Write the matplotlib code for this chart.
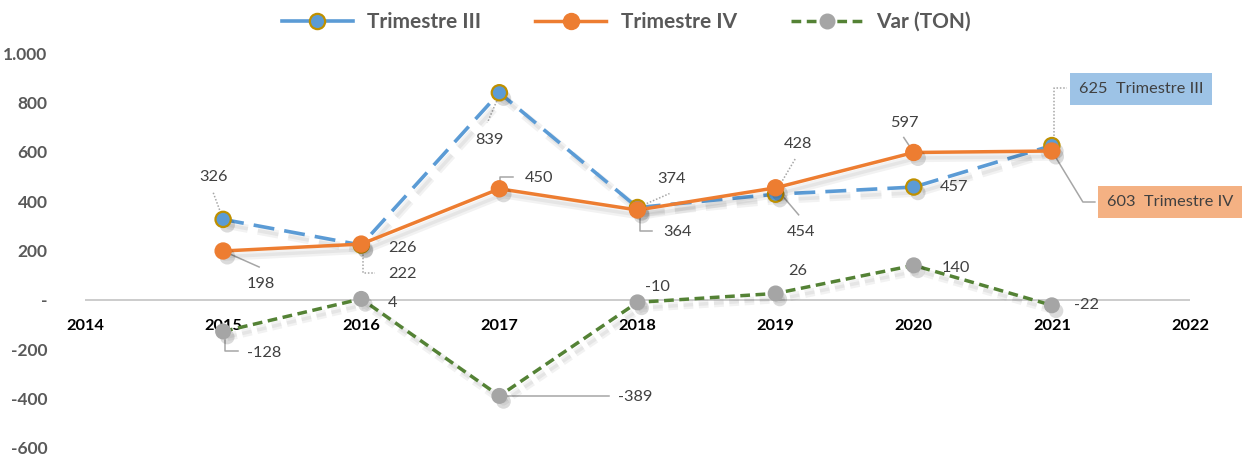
import matplotlib
matplotlib.use("Agg")
import matplotlib.pyplot as plt
import matplotlib.patheffects as pe
from matplotlib.lines import Line2D
import numpy as np

plt.rcParams['font.family'] = ['Lato', 'DejaVu Sans']

years = [2015, 2016, 2017, 2018, 2019, 2020, 2021]
trim3 = [326, 222, 839, 374, 428, 457, 625]
trim4 = [198, 226, 450, 364, 454, 597, 603]
var_ton = [-128, 4, -389, -10, 26, 140, -22]
x_ticks = [2014, 2015, 2016, 2017, 2018, 2019, 2020, 2021, 2022]
y_ticks = [-600, -400, -200, 0, 200, 400, 600, 800, 1000]
y_tick_labels = ['-600', '-400', '-200', '-', '200', '400', '600', '800', '1.000']

C_BLUE = '#5B9BD5'
C_GOLD = '#BF9000'
C_ORANGE = '#ED7D31'
C_GREEN = '#548235'
C_GRAY = '#A5A5A5'
C_LEAD = '#A6A6A6'
C_LABEL = '#404040'

W, H = 1253, 459
fig = plt.figure(figsize=(W / 100, H / 100), dpi=100)
ax = fig.add_axes([85 / W, (H - 448) / H, (1190 - 85) / W, (448 - 53) / H])
ax.set_xlim(2014, 2022)
ax.set_ylim(-600, 1000)
for s in ax.spines.values():
    s.set_visible(False)
ax.set_xticks([])
ax.set_yticks(y_ticks)
ax.set_yticklabels(y_tick_labels, fontsize=12.5, fontweight='bold', color='#595959')
ax.tick_params(axis='y', length=0, pad=27)
ax.axhline(0, color='#C8C8C8', lw=1.3, zorder=1)

for xv in x_ticks:
    ax.annotate(str(xv), (xv, 0), xytext=(0, -26), textcoords='offset pixels',
                ha='center', va='center', fontsize=11.8, fontweight='bold', color='black')

line_shadow = [pe.SimpleLineShadow(offset=(3, -4), shadow_color='black', alpha=0.05, linewidth=6),
               pe.SimpleLineShadow(offset=(3, -4), shadow_color='black', alpha=0.05),
               pe.Normal()]
mark_shadow = [pe.SimplePatchShadow(offset=(3, -4), shadow_rgbFace='black', alpha=0.14),
               pe.Normal()]

series = [
    (trim3, dict(color=C_BLUE, lw=2.6, ls=(0, (5.8, 2.8))),
     dict(ms=11, mfc=C_BLUE, mec=C_GOLD, mew=1.6), 3),
    (trim4, dict(color=C_ORANGE, lw=2.5, ls='-'),
     dict(ms=11.5, mfc=C_ORANGE, mec=C_ORANGE, mew=1), 4),
    (var_ton, dict(color=C_GREEN, lw=2.5, ls=(0, (2.8, 1.6))),
     dict(ms=10.5, mfc=C_GRAY, mec=C_GRAY, mew=1), 5),
]
for vals, lkw, mkw, z in series:
    ax.plot(years, vals, zorder=z, path_effects=line_shadow, **lkw)
    ax.plot(years, vals, ls='none', marker='o', zorder=z + 0.1, path_effects=mark_shadow, **mkw)


def off(xd, yd, dx, dy):
    px, py = ax.transData.transform((xd, yd))
    return ax.transData.inverted().transform((px + dx, py + dy))


def label(xd, yd, text, dx, dy, leader=None, ls='-', box=None):
    if leader:
        pts = np.array([off(xd, yd, a, b) for a, b in leader])
        ax.plot(pts[:, 0], pts[:, 1], color=C_LEAD, lw=1.1,
                ls=(0, (1, 1.2)) if ls == ':' else '-', zorder=2.5)
    kw = {}
    if box:
        kw['bbox'] = dict(boxstyle='square,pad=0.55', fc=box, ec='none')
    ax.annotate(text, (xd, yd), xytext=(dx, dy), textcoords='offset pixels',
                ha='center', va='center', fontsize=11.8, color=C_LABEL, zorder=6, **kw)


# Trimestre III labels
label(years[0], trim3[0], str(trim3[0]), -10, 42, [(0, 0), (-10, 27)], ':')
label(years[1], trim3[1], str(trim3[1]), 41, -29, [(2, -6), (2, -28), (14, -28)], ':')
label(years[2], trim3[2], str(trim3[2]), -10, -47, [(0, -2), (-12, -30)], ':')
label(years[3], trim3[3], str(trim3[3]), 34, 29, [(0, 0), (32, 14)], ':')
label(years[4], trim3[4], str(trim3[4]), 22, 50, [(0, 2), (20, 36)], ':')
label(years[5], trim3[5], str(trim3[5]), 40, 0)
label(years[6], trim3[6], f"{trim3[6]}  Trimestre III", 89, 57,
      [(2, 0), (2, 58), (15, 58)], ':', box='#9DC3E6')

# Trimestre IV labels
label(years[0], trim4[0], str(trim4[0]), 38, -33, [(0, 0), (36, -16)])
label(years[1], trim4[1], str(trim4[1]), 41, -4)
label(years[2], trim4[2], str(trim4[2]), 40, 11, [(1, 0), (1, 12), (14, 12)])
label(years[3], trim4[3], str(trim4[3]), 40, -22, [(2, 0), (2, -21), (14, -21)])
label(years[4], trim4[4], str(trim4[4]), 25, -44, [(0, 0), (23, -27)])
label(years[5], trim4[5], str(trim4[5]), -9, 29, [(0, 0), (-10, 15)])
label(years[6], trim4[6], f"{trim4[6]}  Trimestre IV", 118, -51,
      [(0, 0), (31, -51), (43, -51)], box='#F4B183')

# Var labels
label(years[0], var_ton[0], str(var_ton[0]), 41, -22, [(2, -9), (2, -20), (15, -20)])
label(years[1], var_ton[1], str(var_ton[1]), 31, -4)
label(years[2], var_ton[2], str(var_ton[2]), 136, -1, [(4, 0), (110, 0)])
label(years[3], var_ton[3], str(var_ton[3]), 20, 15)
label(years[4], var_ton[4], str(var_ton[4]), 22, 22)
label(years[5], var_ton[5], str(var_ton[5]), 42, -3)
label(years[6], var_ton[6], str(var_ton[6]), 35, 0)

handles = [
    Line2D([], [], color=C_BLUE, lw=2.6, marker='o', ms=11, mfc=C_BLUE, mec=C_GOLD, mew=1.6),
    Line2D([], [], color=C_ORANGE, lw=2.5, marker='o', ms=11.5, mfc=C_ORANGE, mec=C_ORANGE),
    Line2D([], [], color=C_GREEN, lw=2.5, ls=(0, (2.8, 1.6)), marker='o', ms=10.5, mfc=C_GRAY, mec=C_GRAY),
]
leg = fig.legend(handles, ['Trimestre III', 'Trimestre IV', 'Var (TON)'], loc='center',
                 bbox_to_anchor=(0.5, 1 - 22 / H), ncol=3, frameon=False,
                 prop={'size': 15, 'weight': 'bold'}, handlelength=3.4, handletextpad=0.7,
                 columnspacing=2.6, borderpad=0)
for t in leg.get_texts():
    t.set_color('#595959')

fig.savefig('out.png', dpi=100)
